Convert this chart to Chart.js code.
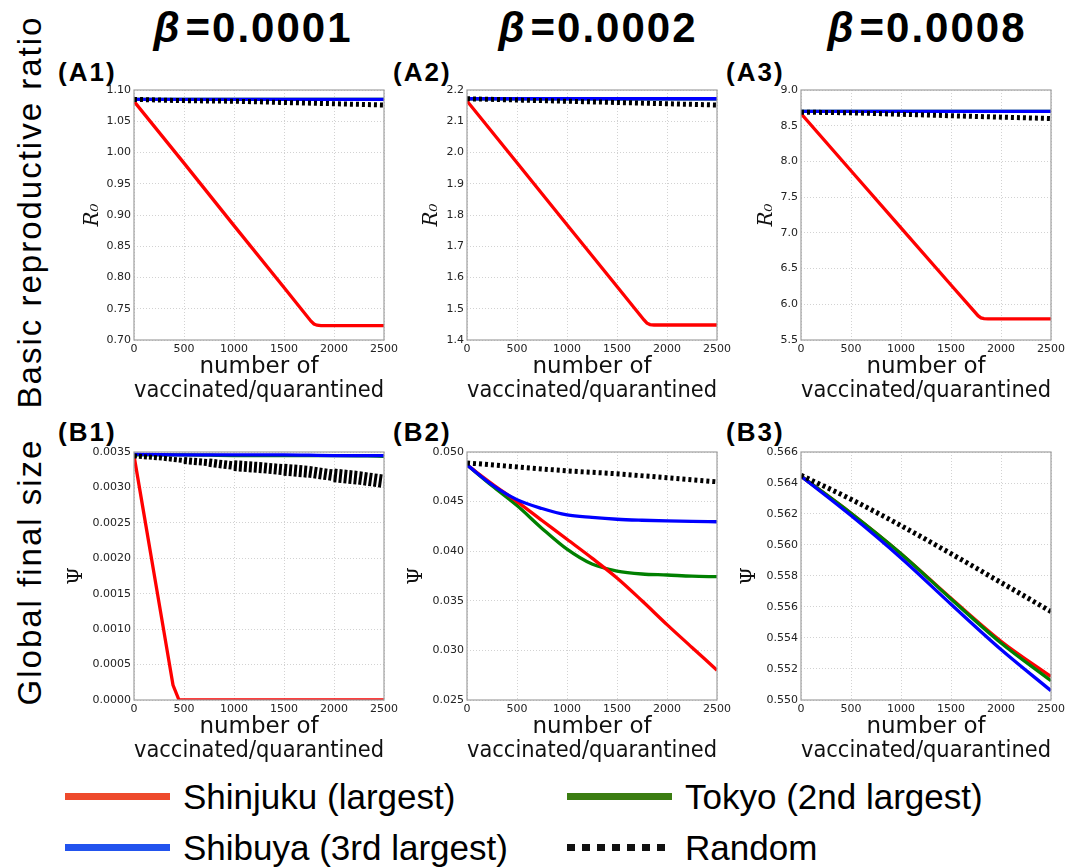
<!DOCTYPE html>
<html>
<head>
<meta charset="utf-8">
<script src="https://cdn.jsdelivr.net/npm/chart.js@4.4.1/dist/chart.umd.min.js"></script>
<style>
  body { margin: 0; background: #fff; }
  #fig { position: relative; width: 1077px; height: 867px; overflow: hidden; font-family: "Liberation Sans", Arial, sans-serif; color: #000; }
  #fig canvas { position: absolute; }
  .beta { position: absolute; top: 4px; width: 320px; text-align: center; font-weight: bold; font-size: 42px; letter-spacing: 2px; line-height: 48px; }
  .beta i { margin-right: 4px; }
  .tag { position: absolute; font-weight: bold; font-size: 26px; letter-spacing: 2px; line-height: 30px; }
  .row { position: absolute; left: 30px; font-size: 33px; letter-spacing: 2px; white-space: nowrap; line-height: 40px; transform: translate(-50%, -50%) rotate(-90deg); }
  .key { position: absolute; width: 105px; height: 7px; }
  .keytxt { position: absolute; font-size: 35px; line-height: 40px; white-space: nowrap; }
</style>
</head>
<body>
<div id="fig">
  <div class="beta" style="left:93px"><i>β</i>=0.0001</div>
  <div class="beta" style="left:438px"><i>β</i>=0.0002</div>
  <div class="beta" style="left:767px"><i>β</i>=0.0008</div>

  <div class="tag" style="left:58px; top:57px">(A1)</div>
  <div class="tag" style="left:393px; top:57px">(A2)</div>
  <div class="tag" style="left:726px; top:57px">(A3)</div>
  <div class="tag" style="left:58px; top:417px">(B1)</div>
  <div class="tag" style="left:393px; top:417px">(B2)</div>
  <div class="tag" style="left:726px; top:417px">(B3)</div>

  <div class="row" style="top:212px">Basic reproductive ratio</div>
  <div class="row" style="top:572px">Global final size</div>

  <div id="legend"></div>
</div>

<script>
// x positions (number of vaccinated/quarantined)
const xTicks = [0, 500, 1000, 1500, 2000, 2500];
const xs500 = [0, 500, 1000, 1500, 2000, 2500];
const xs250 = [0, 250, 500, 750, 1000, 1250, 1500, 1750, 2000, 2250, 2500];
const xsCorner = [0, 500, 1000, 1500, 1770, 1800, 1830, 1870, 2500];
const xsDropB1 = [0, 100, 200, 300, 390, 450, 500, 1000, 1500, 2000, 2500];

const seriesNames = ["Shinjuku (largest)", "Tokyo (2nd largest)", "Shibuya (3rd largest)", "Random"];

// (A) R0
const shinjukuA1 = [1.082, 0.983, 0.883, 0.784, 0.730, 0.7255, 0.7237, 0.723, 0.723];
const tokyoA1 = [1.085, 1.085, 1.085, 1.085, 1.085, 1.085];
const shibuyaA1 = [1.085, 1.085, 1.085, 1.085, 1.085, 1.085];
const randomA1 = [1.085, 1.083, 1.082, 1.080, 1.078, 1.076];

const shinjukuA2 = [2.165, 1.967, 1.769, 1.571, 1.464, 1.454, 1.4495, 1.448, 1.448];
const tokyoA2 = [2.172, 2.172, 2.172, 2.172, 2.172, 2.172];
const shibuyaA2 = [2.172, 2.172, 2.172, 2.172, 2.172, 2.172];
const randomA2 = [2.172, 2.168, 2.164, 2.160, 2.156, 2.152];

const shinjukuA3 = [8.67, 7.87, 7.07, 6.27, 5.84, 5.81, 5.80, 5.795, 5.795];
const tokyoA3 = [8.70, 8.70, 8.70, 8.70, 8.70, 8.70];
const shibuyaA3 = [8.70, 8.70, 8.70, 8.70, 8.70, 8.70];
const randomA3 = [8.69, 8.68, 8.66, 8.64, 8.62, 8.60];

// (B) global final size
const shinjukuB1 = [0.00345, 0.00262, 0.00179, 0.00096, 0.00021, 0, 0, 0, 0, 0, 0];
const tokyoB1 = [0.00346, 0.00346, 0.00345, 0.00345, 0.00345, 0.00344];
const shibuyaB1 = [0.00347, 0.00346, 0.00346, 0.00346, 0.00345, 0.00345];
// random runs scatter widely here: middle of the band and its spread
const randomB1 = [0.003445, 0.003418, 0.00338, 0.00335, 0.003307, 0.003282, 0.00325, 0.00322, 0.00317, 0.003134, 0.003085];
const randomSpreadB1 = [0.00001, 0.000047, 0.0001, 0.000119, 0.000154, 0.000154, 0.000169, 0.000163, 0.000193, 0.000188, 0.00017];

const shinjukuB2 = [0.0487, 0.0468, 0.0450, 0.0431, 0.0412, 0.0393, 0.0373, 0.0350, 0.0326, 0.0303, 0.0280];
const tokyoB2 = [0.0487, 0.0466, 0.0446, 0.0423, 0.0402, 0.0387, 0.0380, 0.0377, 0.0376, 0.03748, 0.03743];
const shibuyaB2 = [0.0487, 0.0467, 0.0452, 0.0443, 0.04365, 0.0434, 0.04322, 0.04312, 0.04305, 0.0430, 0.04297];
const randomB2 = [0.0489, 0.0485, 0.0481, 0.0478, 0.0474, 0.0470];

const shinjukuB3 = [0.56444, 0.56205, 0.55944, 0.55656, 0.55379, 0.55151];
const tokyoB3 = [0.56444, 0.56205, 0.55944, 0.55652, 0.55368, 0.55124];
const shibuyaB3 = [0.56444, 0.5619, 0.55916, 0.55618, 0.55326, 0.5506];
const randomB3 = [0.5645, 0.56295, 0.56125, 0.55944, 0.55758, 0.55571];

// y tick labels
const yTicksA1 = [0.70, 0.75, 0.80, 0.85, 0.90, 0.95, 1.00, 1.05, 1.10];
const yTicksA2 = [1.4, 1.5, 1.6, 1.7, 1.8, 1.9, 2.0, 2.1, 2.2];
const yTicksA3 = [5.5, 6.0, 6.5, 7.0, 7.5, 8.0, 8.5, 9.0];
const yTicksB1 = [0, 0.0005, 0.0010, 0.0015, 0.0020, 0.0025, 0.0030, 0.0035];
const yTicksB2 = [0.025, 0.030, 0.035, 0.040, 0.045, 0.050];
const yTicksB3 = [0.550, 0.552, 0.554, 0.556, 0.558, 0.560, 0.562, 0.564, 0.566];

const fig = document.getElementById("fig");

const lineStyle = {
  shinjuku: { color: "#ff0000", width: 3.3, dash: [], smooth: true },
  shinjukuStraight: { color: "#ff0000", width: 3.3, dash: [], smooth: false },
  tokyo: { color: "#008000", width: 3.3, dash: [], smooth: true },
  shibuya: { color: "#0000ff", width: 3.3, dash: [], smooth: true },
  random: { color: "#000000", width: 5, dash: [3, 3], smooth: true },
  randomBand: { color: "#000000", width: 5, dash: [3, 2], smooth: false },
};
const legendColor = { shinjuku: "#ee4a2c", tokyo: "#3b7d12", shibuya: "#2253ee" };

// plot-area placement of each panel
const panels = [
  { left: 134, top: 90, h: 250, yw: 53, yTitle: "R₀", yTicks: yTicksA1, dec: 2,
    series: [["random", 3, xs500, randomA1], ["shibuya", 2, xs500, shibuyaA1], ["tokyo", 1, xs500, tokyoA1], ["shinjukuStraight", 0, xsCorner, shinjukuA1]] },
  { left: 467, top: 90, h: 250, yw: 47, yTitle: "R₀", yTicks: yTicksA2, dec: 1,
    series: [["random", 3, xs500, randomA2], ["shibuya", 2, xs500, shibuyaA2], ["tokyo", 1, xs500, tokyoA2], ["shinjukuStraight", 0, xsCorner, shinjukuA2]] },
  { left: 801, top: 90, h: 250, yw: 46, yTitle: "R₀", yTicks: yTicksA3, dec: 1,
    series: [["random", 3, xs500, randomA3], ["shibuya", 2, xs500, shibuyaA3], ["tokyo", 1, xs500, tokyoA3], ["shinjukuStraight", 0, xsCorner, shinjukuA3]] },
  { left: 134, top: 452, h: 248, yw: 69, yTitle: "Ψ", yTicks: yTicksB1, dec: 4,
    series: [["randomBand", 3, xs250, randomB1, randomSpreadB1], ["shibuya", 2, xs500, shibuyaB1], ["tokyo", 1, xs500, tokyoB1], ["shinjukuStraight", 0, xsDropB1, shinjukuB1]] },
  { left: 467, top: 452, h: 248, yw: 62, yTitle: "Ψ", yTicks: yTicksB2, dec: 3,
    series: [["random", 3, xs500, randomB2], ["shibuya", 2, xs250, shibuyaB2], ["shinjuku", 0, xs250, shinjukuB2], ["tokyo", 1, xs250, tokyoB2]] },
  { left: 801, top: 452, h: 248, yw: 63, yTitle: "Ψ", yTicks: yTicksB3, dec: 3,
    series: [["random", 3, xs500, randomB3], ["shibuya", 2, xs500, shibuyaB3], ["tokyo", 1, xs500, tokyoB3], ["shinjuku", 0, xs500, shinjukuB3]] },
];

// gray frame around the plot area, like the matplotlib spines
const framePlugin = {
  id: "frame",
  afterDraw(chart) {
    const a = chart.chartArea;
    const ctx = chart.ctx;
    ctx.save();
    ctx.strokeStyle = "#a0a0a0";
    ctx.lineWidth = 1.2;
    ctx.strokeRect(a.left, a.top, a.right - a.left, a.bottom - a.top);
    ctx.restore();
  },
};

const gridOpts = { color: "#d2d2d2", lineWidth: 1, drawTicks: false };
const tickFont = { family: "DejaVu Sans", size: 11 };

panels.forEach((p) => {
  const cv = document.createElement("canvas");
  cv.width = 100 + 250 + 40;
  cv.height = 10 + p.h + 63;
  cv.style.left = (p.left - 100) + "px";
  cv.style.top = (p.top - 10) + "px";
  fig.appendChild(cv);

  const yMin = p.yTicks[0];
  const yMax = p.yTicks[p.yTicks.length - 1];
  const pxPerUnit = p.h / (yMax - yMin);

  new Chart(cv.getContext("2d"), {
    type: "line",
    data: {
      datasets: p.series.map(([key, n, xs, ys, spread]) => {
        const st = lineStyle[key];
        const ds = {
          label: seriesNames[n],
          data: xs.map((x, i) => ({ x: x, y: ys[i] })),
          borderColor: st.color,
          borderWidth: st.width,
          borderDash: st.dash,
          cubicInterpolationMode: st.smooth ? "monotone" : "default",
          pointRadius: 0,
          tension: 0,
          fill: false,
        };
        if (spread) {
          // band thickness follows the scatter of the random runs
          ds.segment = {
            borderWidth: (ctx) => Math.max(st.width, spread[ctx.p0DataIndex] * pxPerUnit),
          };
        }
        return ds;
      }),
    },
    options: {
      responsive: false,
      animation: false,
      devicePixelRatio: 1,
      layout: { padding: { left: 100 - p.yw, right: 40, top: 10, bottom: 0 } },
      plugins: { legend: { display: false }, tooltip: { enabled: false } },
      scales: {
        x: {
          type: "linear",
          min: xTicks[0],
          max: xTicks[xTicks.length - 1],
          afterBuildTicks: (s) => { s.ticks = xTicks.map((v) => ({ value: v })); },
          afterFit: (s) => { s.height = 63; },
          grid: gridOpts,
          border: { display: false, dash: [1, 2] },
          ticks: { padding: 3, color: "#222", font: tickFont, maxRotation: 0, autoSkip: false, callback: (v) => String(v) },
          title: { display: true, text: ["number of", "vaccinated/quarantined"], color: "#111",
                   font: { family: "DejaVu Sans", size: 23, lineHeight: 1.05 }, padding: 0 },
        },
        y: {
          type: "linear",
          min: yMin,
          max: yMax,
          afterBuildTicks: (s) => { s.ticks = p.yTicks.map((v) => ({ value: v })); },
          afterFit: (s) => { s.width = p.yw; },
          grid: gridOpts,
          border: { display: false, dash: [1, 2] },
          ticks: { padding: 3, color: "#222", font: tickFont, autoSkip: false, callback: (v) => Number(v).toFixed(p.dec) },
          title: { display: true, text: p.yTitle, color: "#111",
                   font: { family: "DejaVu Serif", size: 20, style: p.yTitle === "R₀" ? "italic" : "normal" }, padding: 0 },
        },
      },
    },
    plugins: [framePlugin],
  });
});

// legend under the panels
const legend = document.getElementById("legend");
const legendItems = [
  { n: 0, left: 65, y: 797, key: "shinjuku" },
  { n: 1, left: 567, y: 797, key: "tokyo" },
  { n: 2, left: 65, y: 848, key: "shibuya" },
  { n: 3, left: 567, y: 848, key: "random" },
];
legendItems.forEach((it) => {
  const line = document.createElement("div");
  line.className = "key";
  line.style.left = it.left + "px";
  line.style.top = (it.y - 4) + "px";
  line.style.background = it.key === "random"
    ? "repeating-linear-gradient(90deg, #111 0 8px, transparent 8px 15px)"
    : legendColor[it.key];
  legend.appendChild(line);
  const txt = document.createElement("div");
  txt.className = "keytxt";
  txt.style.left = (it.left + 118) + "px";
  txt.style.top = (it.y - 20) + "px";
  txt.textContent = seriesNames[it.n];
  legend.appendChild(txt);
});
</script>
</body>
</html>
